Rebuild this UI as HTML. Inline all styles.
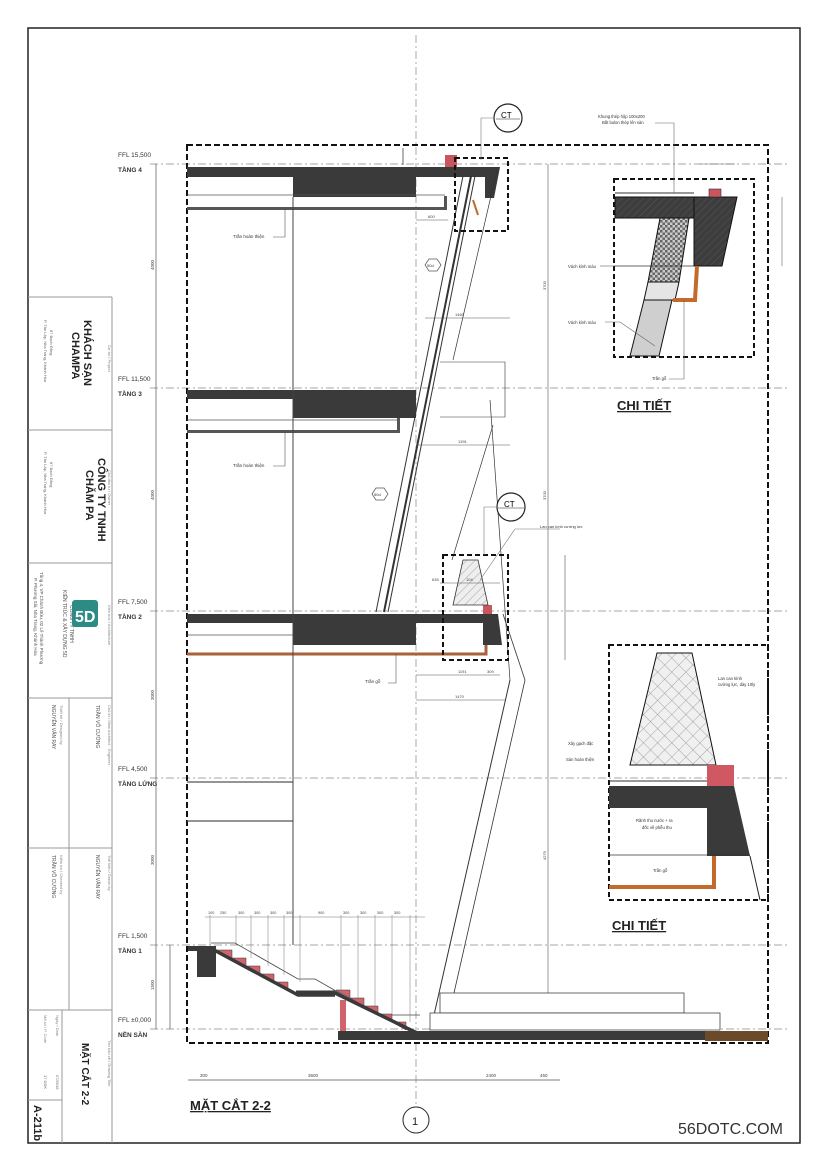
<!DOCTYPE html>
<html><head><meta charset="utf-8"><style>
html,body{margin:0;padding:0;background:#fff}
svg{display:block}
text{font-family:"Liberation Sans","Noto Sans CJK SC",sans-serif}
</style></head><body>
<svg width="830" height="1173" viewBox="0 0 830 1173" xmlns="http://www.w3.org/2000/svg">
<defs>
<pattern id="hx" width="6" height="6" patternUnits="userSpaceOnUse" patternTransform="rotate(45)">
<rect width="6" height="6" fill="#eee"/><line x1="0" y1="0" x2="0" y2="6" stroke="#999" stroke-width="0.8"/></pattern>
<pattern id="cross" width="10" height="10" patternUnits="userSpaceOnUse" patternTransform="rotate(45)">
<rect width="10" height="10" fill="#f0f0f0"/><path d="M0 0V10M0 0H10" stroke="#888" stroke-width="0.7"/></pattern>
<pattern id="chk" width="5" height="5" patternUnits="userSpaceOnUse">
<rect width="5" height="5" fill="#ccc"/><rect width="2.5" height="2.5" fill="#666"/><rect x="2.5" y="2.5" width="2.5" height="2.5" fill="#666"/></pattern>
<pattern id="dk" width="5" height="5" patternUnits="userSpaceOnUse" patternTransform="rotate(45)">
<rect width="5" height="5" fill="#3d3d3d"/><line x1="0" y1="0" x2="0" y2="5" stroke="#555" stroke-width="1"/></pattern>
</defs>
<rect width="830" height="1173" fill="#fff"/>
<rect x="28" y="28" width="772" height="1115" fill="none" stroke="#222" stroke-width="1.5"/>
<g stroke="#999" stroke-width="1" fill="none">
<line x1="112" y1="297" x2="112" y2="1143"/>
<line x1="28" y1="297" x2="112" y2="297"/>
<line x1="28" y1="430" x2="112" y2="430"/>
<line x1="28" y1="563" x2="112" y2="563"/>
<line x1="28" y1="698" x2="112" y2="698"/>
<line x1="28" y1="848" x2="112" y2="848"/>
<line x1="28" y1="1010" x2="112" y2="1010"/>
<line x1="69" y1="698" x2="69" y2="1010"/>
<line x1="62" y1="1010" x2="62" y2="1143"/>
<line x1="28" y1="1100" x2="62" y2="1100"/>
</g>
<g fill="#222">
<text transform="translate(84,320) rotate(90)" font-size="11" font-weight="bold">KHÁCH SẠN</text>
<text transform="translate(72,332) rotate(90)" font-size="11" font-weight="bold">CHAMPA</text>
<text transform="translate(108,345) rotate(90)" font-size="4" fill="#888">Dự án / Project</text>
<text transform="translate(50,330) rotate(90)" font-size="4" fill="#666">87 Bạch Đằng</text>
<text transform="translate(44,320) rotate(90)" font-size="4" fill="#666">P. Tân Lập, Nha Trang, Khánh Hòa</text>
<text transform="translate(98,458) rotate(90)" font-size="11" font-weight="bold">CÔNG TY TNHH</text>
<text transform="translate(86,470) rotate(90)" font-size="11" font-weight="bold">CHĂM PA</text>
<text transform="translate(108,470) rotate(90)" font-size="4" fill="#888">Chủ đầu tư / Owner</text>
<text transform="translate(50,462) rotate(90)" font-size="4" fill="#666">87 Bạch Đằng</text>
<text transform="translate(44,452) rotate(90)" font-size="4" fill="#666">P. Tân Lập, Nha Trang, Khánh Hòa</text>
<text transform="translate(108,605) rotate(90)" font-size="4" fill="#888">Kiến trúc / Architecture</text>
<text transform="translate(70,605) rotate(90)" font-size="5" fill="#555">CÔNG TY TNHH</text>
<text transform="translate(63,590) rotate(90)" font-size="5" fill="#555">KIẾN TRÚC &amp; XÂY DỰNG 5D</text>
<text transform="translate(40,572) rotate(90)" font-size="4.5" fill="#555">Tầng 4, VP Chánh Bửu, 02 Lê Thành Phương</text>
<text transform="translate(34,578) rotate(90)" font-size="4.5" fill="#555">P. Phương Sài, Nha Trang, Khánh Hòa</text>
<text transform="translate(108,705) rotate(90)" font-size="4" fill="#888">Chủ trì / Main Architect · Engineer</text>
<text transform="translate(96,705) rotate(90)" font-size="5" fill="#555">TRẦN VÕ CƯỜNG</text>
<text transform="translate(60,705) rotate(90)" font-size="4" fill="#888">Thiết kế / Designed by</text>
<text transform="translate(52,705) rotate(90)" font-size="5" fill="#555">NGUYỄN VĂN RAY</text>
<text transform="translate(108,855) rotate(90)" font-size="4" fill="#888">Thể hiện / Drawn by</text>
<text transform="translate(96,855) rotate(90)" font-size="5" fill="#555">NGUYỄN VĂN RAY</text>
<text transform="translate(60,855) rotate(90)" font-size="4" fill="#888">Kiểm tra / Checked by</text>
<text transform="translate(52,855) rotate(90)" font-size="5" fill="#555">TRẦN VÕ CƯỜNG</text>
<text transform="translate(108,1040) rotate(90)" font-size="4" fill="#888">Tên bản vẽ / Drawing Title</text>
<text transform="translate(82,1043) rotate(90)" font-size="10" font-weight="bold">MẶT CẮT 2-2</text>
<text transform="translate(56,1015) rotate(90)" font-size="4" fill="#888">Ngày / Date</text>
<text transform="translate(56,1075) rotate(90)" font-size="4" fill="#666">07/2016</text>
<text transform="translate(44,1015) rotate(90)" font-size="4" fill="#888">Mã số / P. Code</text>
<text transform="translate(44,1075) rotate(90)" font-size="4" fill="#666">17 DDK</text>
<text transform="translate(34,1105) rotate(90)" font-size="11" font-weight="bold">A-211b</text>
</g>
<rect x="72" y="600" width="26" height="27" rx="3" fill="#2d8b86"/>
<text x="75" y="622" font-size="16" font-weight="bold" fill="#fff">5D</text>

<g stroke="#888" stroke-width="0.7" stroke-dasharray="8 3 2 3" fill="none">
<line x1="416" y1="35" x2="416" y2="1105"/>
<line x1="150" y1="164" x2="790" y2="164"/>
<line x1="150" y1="388" x2="790" y2="388"/>
<line x1="150" y1="611" x2="790" y2="611"/>
<line x1="150" y1="778" x2="790" y2="778"/>
<line x1="150" y1="945" x2="790" y2="945"/>
<line x1="150" y1="1029" x2="790" y2="1029"/>
</g>
<g fill="#333" font-size="6.5">
<text x="118" y="157">FFL 15,500</text><text x="118" y="172" font-weight="bold">TẦNG 4</text>
<text x="118" y="381">FFL 11,500</text><text x="118" y="396" font-weight="bold">TẦNG 3</text>
<text x="118" y="604">FFL 7,500</text><text x="118" y="619" font-weight="bold">TẦNG 2</text>
<text x="118" y="771">FFL 4,500</text><text x="118" y="786" font-weight="bold">TẦNG LỬNG</text>
<text x="118" y="938">FFL 1,500</text><text x="118" y="953" font-weight="bold">TẦNG 1</text>
<text x="118" y="1022">FFL ±0,000</text><text x="118" y="1037" font-weight="bold">NỀN SÀN</text>
</g>
<g stroke="#555" stroke-width="0.7">
<line x1="156" y1="164" x2="156" y2="1029"/>
<line x1="170" y1="945" x2="170" y2="1029"/>
<line x1="188" y1="1080" x2="560" y2="1080"/>
</g>
<g fill="#444" font-size="4.5">
<text transform="translate(154,270) rotate(-90)">4000</text>
<text transform="translate(154,500) rotate(-90)">4000</text>
<text transform="translate(154,700) rotate(-90)">3000</text>
<text transform="translate(154,865) rotate(-90)">3000</text>
<text transform="translate(154,990) rotate(-90)">1500</text>
<text x="200" y="1077">300</text><text x="308" y="1077">3600</text><text x="486" y="1077">2400</text><text x="540" y="1077">450</text>
</g>

<path d="M187 145H768V1043H187Z" fill="none" stroke="#111" stroke-width="2" stroke-dasharray="6 3"/>

<rect x="187" y="167" width="300" height="10" fill="#3a3a3a"/>
<rect x="293" y="167" width="123" height="30" fill="#3a3a3a"/>
<path d="M485 167H500L494 198H485Z" fill="#3a3a3a"/>
<rect x="445" y="155" width="12" height="12" fill="#c9565f"/>
<line x1="187" y1="195" x2="445" y2="195" stroke="#555" stroke-width="0.8"/>
<rect x="187" y="207" width="260" height="3" fill="#555"/>
<rect x="444" y="196" width="3" height="14" fill="#555"/>
<rect x="187" y="390" width="229" height="9" fill="#3a3a3a"/>
<rect x="293" y="390" width="123" height="28" fill="#3a3a3a"/>
<line x1="187" y1="420" x2="398" y2="420" stroke="#555" stroke-width="0.8"/>
<rect x="187" y="430" width="213" height="3" fill="#555"/>
<rect x="397" y="418" width="3" height="15" fill="#555"/>
<rect x="187" y="614" width="300" height="9" fill="#3a3a3a"/>
<rect x="293" y="614" width="123" height="31" fill="#3a3a3a"/>
<path d="M483 614H498L502 645H483Z" fill="#3a3a3a"/>
<rect x="483" y="605" width="9" height="9" fill="#c9565f"/>
<path d="M187 654H486V645" fill="none" stroke="#a9623a" stroke-width="3"/>
<line x1="187" y1="635" x2="293" y2="635" stroke="#555" stroke-width="0.8"/>
<line x1="187" y1="782" x2="293" y2="782" stroke="#555" stroke-width="1.2"/>
<line x1="187" y1="821" x2="293" y2="821" stroke="#555" stroke-width="1.2"/>
<line x1="293" y1="197" x2="293" y2="945" stroke="#444" stroke-width="1"/>
<line x1="403" y1="148" x2="403" y2="165" stroke="#444" stroke-width="0.8"/>

<g stroke="#333" fill="none">
<line x1="376" y1="612" x2="463" y2="176" stroke-width="1"/>
<line x1="388" y1="612" x2="475" y2="176" stroke-width="1"/>
<line x1="384" y1="612" x2="471" y2="176" stroke-width="2"/>
<line x1="453" y1="360" x2="497" y2="170" stroke-width="0.7"/>
<path d="M440 362H505V417H440" stroke-width="0.6"/>
<line x1="452" y1="560" x2="493" y2="425" stroke-width="0.7"/>
<path d="M510 680L434 1015" stroke-width="1"/>
<path d="M525 680L449 1015" stroke-width="0.8"/>
<path d="M490 400L510 680" stroke-width="0.7"/>
<path d="M503 614L525 680" stroke-width="0.8"/>
</g>
<g fill="none" stroke="#555" stroke-width="0.7">
<path d="M425 265l4-6h8l4 6-4 6h-8z"/><path d="M372 494l4-6h8l4 6-4 6h-8z"/>
</g>
<text x="427" y="267" font-size="4" fill="#333">50d</text><text x="374" y="496" font-size="4" fill="#333">50d</text>
<g font-size="4.5" fill="#333"><text x="233" y="238">Trần hoàn thiện</text><text x="233" y="467">Trần hoàn thiện</text><text x="365" y="683">Trần gỗ</text></g>
<g stroke="#555" stroke-width="0.6" fill="none"><path d="M273 237H285V210"/><path d="M273 466H285V433"/><path d="M388 683H396V654"/></g>

<rect x="455" y="158" width="53" height="73" fill="none" stroke="#111" stroke-width="2" stroke-dasharray="5 3"/>
<rect x="443" y="555" width="65" height="105" fill="none" stroke="#111" stroke-width="2" stroke-dasharray="5 3"/>
<path d="M463 560H478L488 605H453Z" fill="url(#hx)" stroke="#333" stroke-width="0.8"/>
<path d="M473 200L478 215" stroke="#c46a2a" stroke-width="2"/>
<circle cx="508" cy="118" r="14" fill="#fff" stroke="#222" stroke-width="1.2"/>
<text x="501" y="118" font-size="8">CT</text><line x1="496" y1="119" x2="520" y2="119" stroke="#222" stroke-width="0.6"/>
<path d="M494 118H481V160" fill="none" stroke="#777" stroke-width="0.6"/>
<circle cx="511" cy="507" r="14" fill="#fff" stroke="#222" stroke-width="1.2"/>
<text x="504" y="507" font-size="8">CT</text><line x1="498" y1="508" x2="524" y2="508" stroke="#222" stroke-width="0.6"/>
<path d="M497 507H484V555" fill="none" stroke="#777" stroke-width="0.6"/>
<path d="M480 580L515 529H560" fill="none" stroke="#777" stroke-width="0.6"/>
<text x="540" y="528" font-size="4" fill="#333">Lan can kính cường lực</text>

<g stroke="#555" stroke-width="0.6">
<line x1="548" y1="164" x2="548" y2="1029"/>
<line x1="565" y1="555" x2="565" y2="660"/>
<line x1="416" y1="675" x2="500" y2="675"/>
<line x1="416" y1="700" x2="505" y2="700"/>
<line x1="416" y1="445" x2="510" y2="445"/>
<line x1="425" y1="318" x2="510" y2="318"/>
<line x1="416" y1="220" x2="448" y2="220"/>
<line x1="440" y1="583" x2="500" y2="583"/>
</g>
<g font-size="4" fill="#444">
<text transform="translate(546,290) rotate(-90)">3700</text>
<text transform="translate(546,500) rotate(-90)">3700</text>
<text transform="translate(546,860) rotate(-90)">4279</text>
<text x="458" y="673">1191</text><text x="487" y="673">309</text><text x="455" y="698">1470</text>
<text x="458" y="443">1391</text><text x="455" y="316">1460</text><text x="428" y="218">600</text>
<text x="432" y="581">635</text><text x="466" y="581">104</text>
</g>

<rect x="614" y="179" width="140" height="178" fill="none" stroke="#111" stroke-width="2" stroke-dasharray="5 3"/>
<rect x="615" y="197" width="79" height="21" fill="url(#dk)" stroke="#111"/>
<path d="M694 197H737L722 266H694Z" fill="url(#dk)" stroke="#111"/>
<rect x="709" y="189" width="12" height="8" fill="#c9565f" stroke="#333" stroke-width="0.6"/>
<line x1="615" y1="193" x2="694" y2="193" stroke="#333"/>
<path d="M660 218H689L679 282H648Z" fill="url(#chk)" stroke="#111"/>
<path d="M648 282H679L675 300H644Z" fill="#e5e5e5" stroke="#111"/>
<path d="M644 300H672L659 356H630Z" fill="#cfcfcf" stroke="#111"/>
<path d="M697 266L695 300H673" fill="none" stroke="#c46a2a" stroke-width="4"/>
<line x1="614" y1="266" x2="694" y2="266" stroke="#333" stroke-width="0.8"/>
<g font-size="4.2" fill="#333">
<text x="598" y="118">Khung thép hộp 100x200</text><text x="602" y="124">Bắt bulon thép lên sàn</text>
<text x="568" y="268">Vách kính màu</text><text x="568" y="324">Vách kính màu</text><text x="652" y="380">Trần gỗ</text>
</g>
<g stroke="#666" stroke-width="0.6" fill="none">
<path d="M655 123H674V193"/><path d="M600 266H614"/><path d="M605 322H620L655 346"/><path d="M669 379H684V300"/>
<line x1="700" y1="164" x2="735" y2="164"/><line x1="782" y1="197" x2="782" y2="266"/>
</g>
<text x="617" y="410" font-size="13" fill="#222" text-decoration="underline" font-weight="bold">CHI TIẾT</text>

<rect x="609" y="645" width="159" height="255" fill="none" stroke="#111" stroke-width="2" stroke-dasharray="5 3"/>
<path d="M657 653H692L716 765H630Z" fill="url(#cross)" stroke="#111"/>
<rect x="707" y="765" width="27" height="21" fill="#d05862"/>
<rect x="609" y="786" width="98" height="22" fill="#3a3a3a"/>
<path d="M707 786H734L750 856H707Z" fill="#3a3a3a"/>
<line x1="609" y1="781" x2="707" y2="781" stroke="#333"/>
<line x1="609" y1="855" x2="750" y2="855" stroke="#333" stroke-width="0.8"/>
<path d="M609 887H714V856" fill="none" stroke="#c46a2a" stroke-width="4"/>
<line x1="750" y1="856" x2="760" y2="900" stroke="#222"/>
<g font-size="4.2" fill="#333">
<text x="718" y="680">Lan can kính</text><text x="718" y="686">cường lực, dày 10ly</text>
<text x="568" y="745">Xây gạch đặc</text><text x="566" y="761">Sàn hoàn thiện</text>
<text x="636" y="822">Rãnh thu nước + ra</text><text x="642" y="829">đốc về phễu thu</text><text x="653" y="872">Trần gỗ</text>
</g>
<text x="612" y="930" font-size="13" fill="#222" text-decoration="underline" font-weight="bold">CHI TIẾT</text>

<g stroke="#444" stroke-width="0.8" fill="#fff">
<rect x="440" y="993" width="244" height="20"/>
<rect x="430" y="1013" width="290" height="17"/>
</g>
<rect x="338" y="1031" width="430" height="9" fill="#3a3a3a"/>
<rect x="705" y="1031" width="63" height="10" fill="#6b4a2c"/>
<rect x="340" y="1000" width="6" height="31" fill="#d0646c"/>
<rect x="188" y="946" width="28" height="5" fill="#3a3a3a"/>
<rect x="197" y="950" width="19" height="27" fill="#3a3a3a"/>
<path d="M211 943H235L298 979H315L378 1015H420" fill="none" stroke="#444" stroke-width="0.8"/>
<g fill="#d0646c" stroke="#333" stroke-width="0.5">
<path d="M216 950H232V958Z"/><path d="M230 958H246V966Z"/><path d="M244 966H260V974Z"/><path d="M258 974H274V982Z"/><path d="M272 982H288V990Z"/>
<path d="M336 990H350V998Z"/><path d="M350 998H364V1006Z"/><path d="M364 1006H378V1014Z"/><path d="M378 1014H392V1022Z"/><path d="M392 1022H406V1030Z"/>
</g>
<path d="M214 950L298 995H335" fill="none" stroke="#3a3a3a" stroke-width="3.5"/>
<path d="M333 992L419 1034" fill="none" stroke="#3a3a3a" stroke-width="3.5"/>
<line x1="296" y1="992" x2="335" y2="992" stroke="#3a3a3a" stroke-width="3"/>
<g stroke="#777" stroke-width="0.5">
<line x1="205" y1="917" x2="425" y2="917"/>
<line x1="210" y1="915" x2="210" y2="945"/><line x1="236" y1="915" x2="236" y2="945"/><line x1="251" y1="915" x2="251" y2="958"/><line x1="268" y1="915" x2="268" y2="966"/><line x1="284" y1="915" x2="284" y2="975"/><line x1="300" y1="915" x2="300" y2="982"/><line x1="341" y1="915" x2="341" y2="990"/><line x1="358" y1="915" x2="358" y2="998"/><line x1="375" y1="915" x2="375" y2="1006"/><line x1="392" y1="915" x2="392" y2="1014"/><line x1="410" y1="915" x2="410" y2="1022"/>
</g>
<g font-size="3.8" fill="#444">
<text x="208" y="914">100</text><text x="220" y="914">250</text><text x="238" y="914">300</text><text x="254" y="914">300</text><text x="270" y="914">300</text><text x="286" y="914">300</text><text x="318" y="914">900</text><text x="343" y="914">300</text><text x="360" y="914">300</text><text x="377" y="914">300</text><text x="394" y="914">300</text>
</g>

<text x="190" y="1110" font-size="13" font-weight="bold" fill="#222" text-decoration="underline">MẶT CẮT 2-2</text>
<circle cx="416" cy="1120" r="13" fill="#fff" stroke="#222" stroke-width="1"/>
<text x="412" y="1125" font-size="11" fill="#222">1</text>
<text x="678" y="1134" font-size="16" fill="#333">56DOTC.COM</text>
</svg>
</body></html>
